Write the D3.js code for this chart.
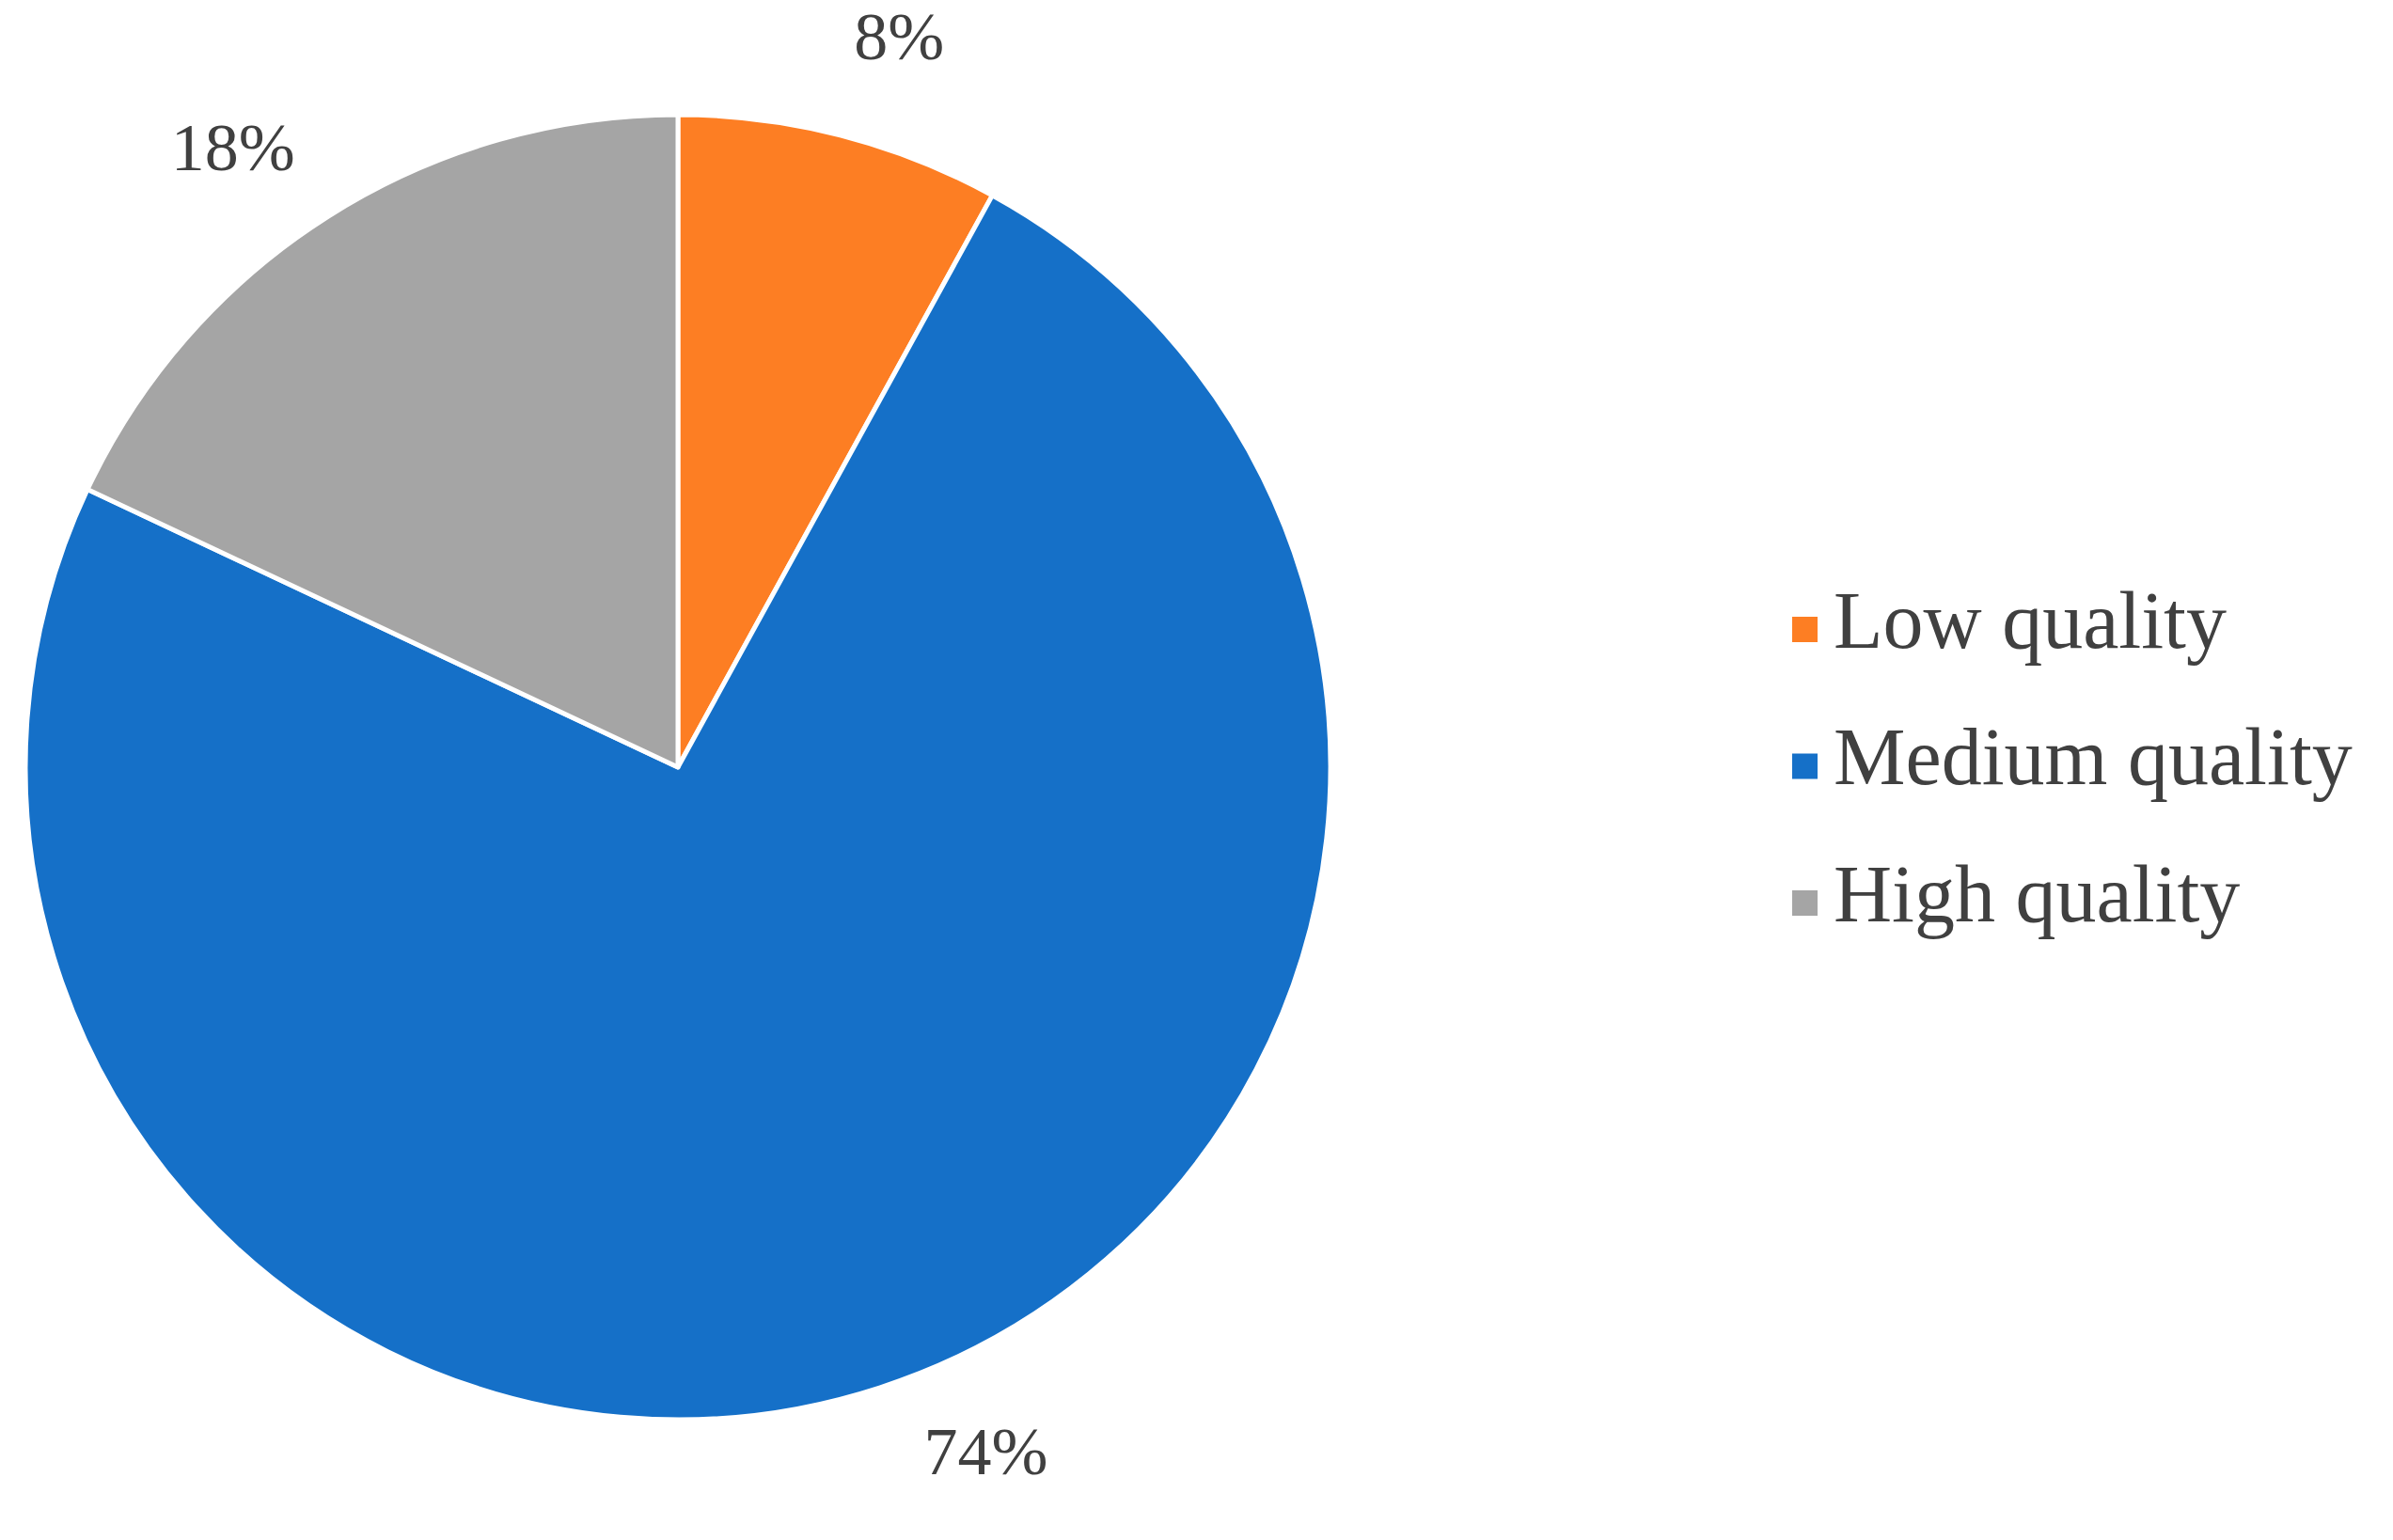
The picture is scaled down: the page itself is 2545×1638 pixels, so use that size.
<!DOCTYPE html>
<html>
<head>
<meta charset="utf-8">
<script src="https://cdn.jsdelivr.net/npm/d3@7"></script>
<style>
  body { margin: 0; background: #fff; }
  text { font-family: "Liberation Serif", "Times New Roman", serif; fill: #404040; }
</style>
</head>
<body>
<svg id="chart" width="2545" height="1638"></svg>
<script>
// Data
const categories = ["Low quality", "Medium quality", "High quality"];
const shares = [8, 74, 18];
const labels = ["8%", "74%", "18%"];
const colors = ["#fd7e23", "#1570c8", "#a5a5a5"];

const svg = d3.select("#chart");
const cx = 721, cy = 816, radius = 694;

const pie = d3.pie().sort(null).value(d => d.value);
const arcs = pie(categories.map((c, i) => ({ name: c, value: shares[i], label: labels[i], color: colors[i] })));

const arc = d3.arc().innerRadius(0).outerRadius(radius);

// label placement: slight angular nudge per slice, like the spreadsheet's best-fit labels
const labelRadius = 805;
const nudge = [2.6, -6, -3.6].map(a => a * Math.PI / 180);
function labelPos(d, i) {
  const a = (d.startAngle + d.endAngle) / 2 + nudge[i];
  return [labelRadius * Math.sin(a), -labelRadius * Math.cos(a)];
}

const g = svg.append("g").attr("transform", `translate(${cx},${cy})`);

g.selectAll("path")
  .data(arcs)
  .join("path")
  .attr("d", arc)
  .attr("fill", d => d.data.color)
  .attr("stroke", "#fff")
  .attr("stroke-width", 5)
  .attr("stroke-linejoin", "round");

g.selectAll(".lbl")
  .data(arcs)
  .join("text")
  .attr("class", "lbl")
  .attr("transform", (d, i) => `translate(${labelPos(d, i)})`)
  .attr("text-anchor", "middle")
  .attr("dominant-baseline", "middle")
  .style("font-size", "72px")
  .text(d => d.data.label);

// Legend
const legendY = d3.scalePoint().domain(categories).range([669, 960]);
const legend = svg.append("g");
legend.selectAll("rect")
  .data(arcs)
  .join("rect")
  .attr("x", 1906)
  .attr("y", d => legendY(d.data.name) - 13)
  .attr("width", 27)
  .attr("height", 27)
  .attr("fill", d => d.data.color);
legend.selectAll("text")
  .data(arcs)
  .join("text")
  .attr("x", 1950)
  .attr("y", d => legendY(d.data.name))
  .attr("dominant-baseline", "middle")
  .style("font-size", "86px")
  .text(d => d.data.name);
</script>
</body>
</html>
